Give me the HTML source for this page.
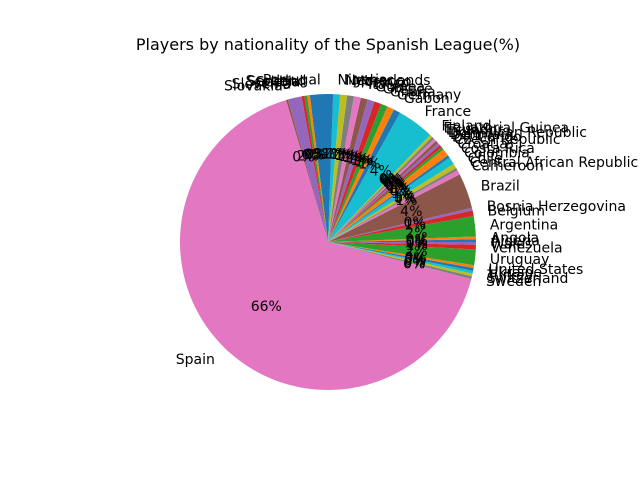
<!DOCTYPE html>
<html><head><meta charset="utf-8"><style>
body{margin:0;background:#fff}
svg text{font-family:"DejaVu Sans","Liberation Sans",sans-serif}
</style></head><body>
<svg id="chart" width="640" height="480" viewBox="0 0 640 480">
<rect width="640" height="480" fill="#fff"/>
<text x="328" y="50" text-anchor="middle" font-size="16" fill="#000">Players by nationality of the Spanish League(%)</text>
<g id="slices"></g><g id="labels"></g>
</svg>
<script>
const categories=["Algeria","Angola","Argentina","Belgium","Bosnia Herzegovina","Brazil","Cameroon","Central African Republic","Chile","Colombia","Costa Rica","Croatia","Czech Republic","DR Congo","Denmark","Dominican Republic","Ecuador","Equatorial Guinea","Finland","France","Gabon","Germany","Ghana","Greece","Guinea","Italy","Mexico","Morocco","Netherlands","Nigeria","Portugal","Scotland","Senegal","Serbia","Slovenia","Slovakia","Spain","Sweden","Switzerland","Turkey","Ukraine","United States","Uruguay","Venezuela","Wales"];
const values=[0.3,0.3,2.2,0.6,0.3,3.8,0.5,0.3,0.5,0.8,0.3,0.8,0.3,0.3,0.3,0.3,0.3,0.3,0.3,4.0,0.75,0.75,0.75,0.75,0.75,0.75,0.75,0.75,0.75,0.75,2.5,0.3,0.3,0.3,1.5,0.2,66,0.3,0.3,0.3,0.3,0.3,1.7,0.5,0.3];
const colors=["#1f77b4","#ff7f0e","#2ca02c","#d62728","#9467bd","#8c564b","#e377c2","#7f7f7f","#bcbd22","#17becf"];
const cx=328,cy=242,R=148;
const total=values.reduce((a,b)=>a+b,0);
const NS="http://www.w3.org/2000/svg";
const gs=document.getElementById('slices'),gl=document.getElementById('labels');
let acc=0;
function pt(a,r){return [cx+r*Math.cos(a),cy-r*Math.sin(a)];}
values.forEach((v,i)=>{
  const a0=acc/total*2*Math.PI; acc+=v; const a1=acc/total*2*Math.PI;
  const p0=pt(a0,R),p1=pt(a1,R);
  const large=(a1-a0)>Math.PI?1:0;
  const p=document.createElementNS(NS,'path');
  p.setAttribute('d',`M${cx},${cy} L${p0[0]},${p0[1]} A${R},${R} 0 ${large} 0 ${p1[0]},${p1[1]} Z`);
  p.setAttribute('fill',colors[i%10]);
  
  
  gs.appendChild(p);
  const am=(a0+a1)/2;
  const lp=pt(am,R*1.1);
  const t=document.createElementNS(NS,'text');
  t.setAttribute('x',lp[0]);t.setAttribute('y',lp[1]+5);
  t.setAttribute('font-size','14');
  t.setAttribute('text-anchor',Math.cos(am)>=0?'start':'end');
  t.textContent=categories[i];
  
  
  gl.appendChild(t);
  const pp=pt(am,R*0.6);
  const u=document.createElementNS(NS,'text');
  u.setAttribute('x',pp[0]);u.setAttribute('y',pp[1]+5);
  u.setAttribute('font-size','14');u.setAttribute('text-anchor','middle');
  u.textContent=Math.round(v/total*100)+'%';
  
  
  gl.appendChild(u);
});
</script>
</body></html>
